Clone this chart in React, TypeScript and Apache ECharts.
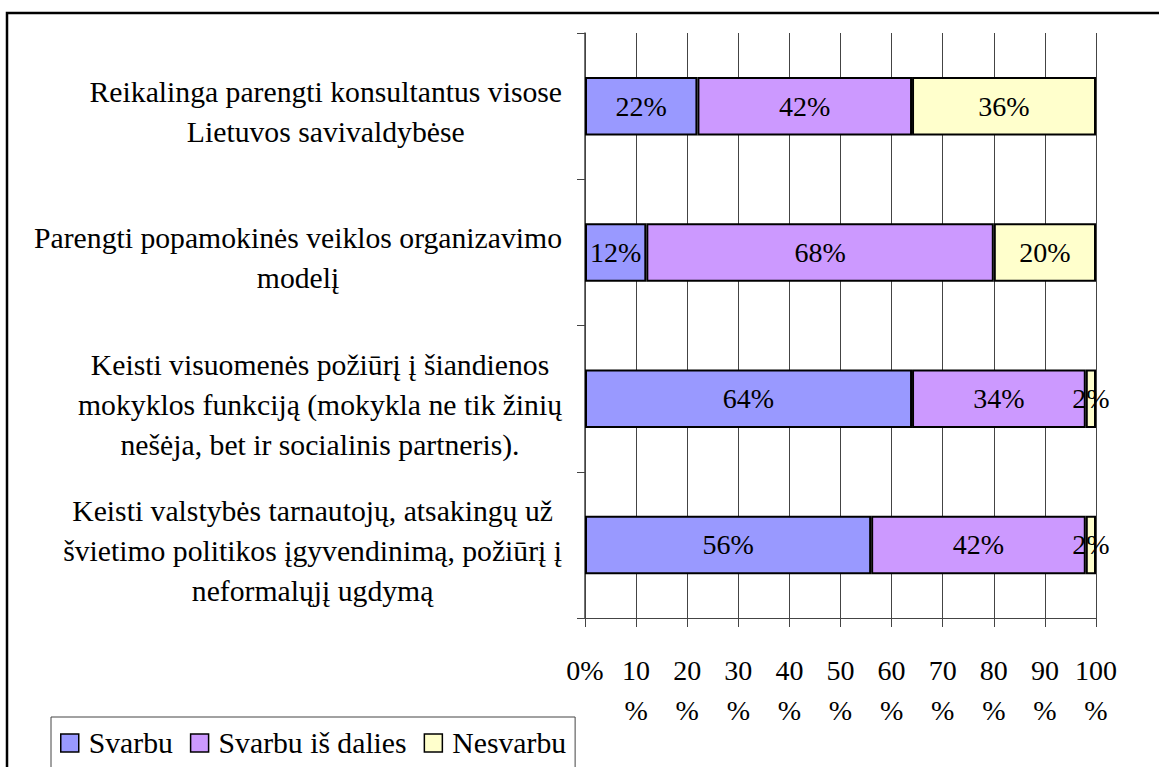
import React, { useEffect, useRef } from "react";
import * as echarts from "echarts";

const categories = [
  "Reikalinga parengti konsultantus visose\nLietuvos savivaldybėse",
  "Parengti popamokinės veiklos organizavimo\nmodelį",
  "Keisti visuomenės požiūrį į šiandienos\nmokyklos funkciją (mokykla ne tik žinių\nnešėja, bet ir socialinis partneris).",
  "Keisti valstybės tarnautojų, atsakingų už\nšvietimo politikos įgyvendinimą, požiūrį į\nneformalųjį ugdymą",
];
const svarbu = [22, 12, 64, 56];
const svarbuIsDalies = [42, 68, 34, 42];
const nesvarbu = [36, 20, 2, 2];
const seriesNames = ["Svarbu", "Svarbu iš dalies", "Nesvarbu"];
const colors = ["#9999FF", "#CC99FF", "#FFFFCC"];

const FONT = "Liberation Serif";

export default function App() {
  const ref = useRef<HTMLDivElement>(null);
  useEffect(() => {
    if (!ref.current) return;
    const chart = echarts.init(ref.current, undefined, { renderer: "svg" });
    const dataSets = [svarbu, svarbuIsDalies, nesvarbu];
    chart.setOption({
      animation: false,
      backgroundColor: "#fff",
      textStyle: { fontFamily: FONT, color: "#000" },
      graphic: [
        {
          type: "rect",
          shape: { x: 7, y: 13, width: 1300, height: 900 },
          style: { fill: "none", stroke: "#000", lineWidth: 2.5 },
          z: -1,
          silent: true,
        },
      ],
      legend: {
        left: 51,
        top: 717,
        orient: "horizontal",
        data: seriesNames,
        icon: "rect",
        itemWidth: 18,
        itemHeight: 18,
        itemGap: 17,
        padding: [8, 9, 20, 9],
        borderColor: "#444",
        borderWidth: 1,
        textStyle: {
          fontFamily: FONT,
          fontSize: 29.7,
          lineHeight: 36,
          color: "#000",
          padding: [0, 0, 0, 5],
        },
        itemStyle: { borderColor: "#000", borderWidth: 1.5 },
      },
      grid: { left: 585, right: 63, top: 33, bottom: 149, containLabel: false },
      xAxis: {
        type: "value",
        min: 0,
        max: 100,
        interval: 10,
        axisLine: { show: true, lineStyle: { color: "#444", width: 1 } },
        axisTick: { show: true, length: 9, lineStyle: { color: "#444", width: 1 } },
        splitLine: { show: true, lineStyle: { color: "#444", width: 1 } },
        axisLabel: {
          margin: 32,
          fontFamily: FONT,
          fontSize: 28,
          color: "#000",
          lineHeight: 40,
          formatter: (v: number) => (v === 0 ? "0%" : v + "\n%"),
        },
      },
      yAxis: {
        type: "category",
        inverse: true,
        data: categories,
        axisLine: { show: true, lineStyle: { color: "#444", width: 1.5 } },
        axisTick: { show: true, length: 8, lineStyle: { color: "#444", width: 1 } },
        axisLabel: {
          margin: 23,
          fontFamily: FONT,
          fontSize: 29.7,
          color: "#000",
          lineHeight: 40,
          padding: [12, 0, 0, 0],
          formatter: (v: string) =>
            v
              .split("\n")
              .map((l) => `{c|${l}}`)
              .join("\n"),
          rich: {
            c: { align: "center", fontFamily: FONT, fontSize: 29.7, lineHeight: 40, color: "#000" },
          },
        },
      },
      series: seriesNames.map((name, i) => ({
        name,
        type: "bar",
        stack: "total",
        barWidth: "40%",
        data: dataSets[i],
        itemStyle: { color: colors[i], borderColor: "#000", borderWidth: 2 },
        label: {
          show: true,
          position: "inside",
          formatter: "{c}%",
          fontFamily: FONT,
          fontSize: 28,
          color: "#000",
        },
      })),
    });
    return () => chart.dispose();
  }, []);
  return (
    <div
      ref={ref}
      style={{ position: "absolute", left: 0, top: 0, width: 1159, height: 767 }}
    />
  );
}
